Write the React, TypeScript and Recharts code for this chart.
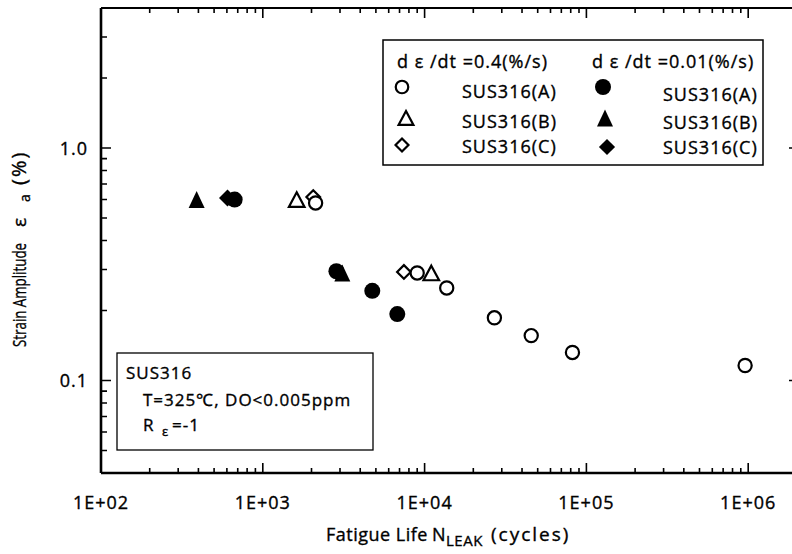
import React from "react";
import { ScatterChart, Scatter, XAxis, YAxis, ReferenceLine } from "recharts";

// ---------- data (N cycles, strain amplitude %) ----------
const openA_N = [2120, 9000, 13700, 27000, 45600, 82000, 957000];
const openA_E = [0.58, 0.29, 0.25, 0.186, 0.156, 0.132, 0.116];
const openB_N = [1620, 11000];
const openB_E = [0.6, 0.29];
const openC_N = [2050, 7450];
const openC_E = [0.615, 0.293];
const fillA_N = [670, 2850, 4750, 6780];
const fillA_E = [0.6, 0.295, 0.243, 0.193];
const fillB_N = [390, 3100];
const fillB_E = [0.6, 0.29];
const fillC_N = [605];
const fillC_E = [0.61];

const MAJOR_X = [100, 1000, 10000, 100000, 1000000];
const X_LABELS = ["1E+02", "1E+03", "1E+04", "1E+05", "1E+06"];
const MAJOR_Y = [0.1, 1];
const Y_LABELS = ["0.1", "1.0"];
const MINOR_MULT = [2, 3, 4, 5, 6, 7, 8, 9];
const X_DOMAIN = [100, 2120000];
const Y_DOMAIN = [0.04, 4];

const PLOT_W = 700;
const PLOT_H = 465;

const toPts = (ns: number[], es: number[]) => ns.map((n, i) => ({ n, e: es[i] }));

const xTicks: number[] = [];
MAJOR_X.forEach((d) => {
  xTicks.push(d);
  MINOR_MULT.forEach((m) => {
    const v = d * m;
    if (v < X_DOMAIN[1]) xTicks.push(v);
  });
});
const yTicks: number[] = [];
[0.01, 0.1, 1].forEach((d) => {
  MINOR_MULT.forEach((m) => {
    const v = +(d * m).toPrecision(6);
    if (v > Y_DOMAIN[0] && v < Y_DOMAIN[1]) yTicks.push(v);
  });
});
MAJOR_Y.forEach((v) => yTicks.push(v));
yTicks.sort((a, b) => a - b);

const isMajor = (v: number) => Math.abs(Math.log10(v) - Math.round(Math.log10(v))) < 1e-9;

const FONT = "'Open Sans', sans-serif";
const TXT = { fontFamily: FONT, fontSize: 18, letterSpacing: 1, fill: "#000", stroke: "#000", strokeWidth: 0.35 } as const;

// ---------- marker shapes ----------
type Kind = "circle" | "triangle" | "diamond";
const drawMarker = (kind: Kind, filled: boolean, cx: number, cy: number, scale = 1) => {
  const sw = 2.2;
  const fill = filled ? "#000" : "#fff";
  const stroke = "#000";
  if (kind === "circle") {
    return <circle cx={cx} cy={cy} r={(filled ? 8 : 6.6) * scale} fill={fill} stroke={filled ? "none" : stroke} strokeWidth={sw} />;
  }
  if (kind === "triangle") {
    const h = (filled ? 8.5 : 7.3) * scale;
    const w = (filled ? 8 : 7.8) * scale;
    const pts = `${cx},${cy - h} ${cx + w},${cy + h} ${cx - w},${cy + h}`;
    return <polygon points={pts} fill={fill} stroke={filled ? "none" : stroke} strokeWidth={sw} strokeLinejoin="miter" />;
  }
  const r = (filled ? 8.5 : 6.8) * scale;
  const pts = `${cx},${cy - r} ${cx + r},${cy} ${cx},${cy + r} ${cx - r},${cy}`;
  return <polygon points={pts} fill={fill} stroke={filled ? "none" : stroke} strokeWidth={sw} strokeLinejoin="miter" />;
};
const shapeOf = (kind: Kind, filled: boolean) => (props: any) => drawMarker(kind, filled, props.cx, props.cy);

// ---------- ticks (inward on all four sides) ----------
const BottomTick = (props: any) => {
  const { x, y, payload } = props;
  const v = payload.value;
  const maj = isMajor(v);
  const len = maj ? 10 : 5;
  const idx = MAJOR_X.findIndex((m) => Math.abs(m - v) / m < 1e-9);
  return (
    <g>
      <path d={`M${x},${y} V${y - len} M${x},${y - PLOT_H} V${y - PLOT_H + len}`} stroke="#000" strokeWidth={1.6} fill="none" />
      {idx >= 0 && (
        <text x={x} y={y + 36} textAnchor="middle" {...TXT}>
          {X_LABELS[idx]}
        </text>
      )}
    </g>
  );
};
const LeftTick = (props: any) => {
  const { x, y, payload } = props;
  const v = payload.value;
  const maj = isMajor(v);
  const len = maj ? 10 : 6;
  const rlen = maj ? 12 : 6;
  const idx = MAJOR_Y.findIndex((m) => Math.abs(m - v) / m < 1e-9);
  return (
    <g>
      <path d={`M${x},${y} H${x + len} M${x + PLOT_W},${y} H${x + PLOT_W - rlen}`} stroke="#000" strokeWidth={1.6} fill="none" />
      {idx >= 0 && (
        <text x={x - 13} y={y + 7} textAnchor="end" {...TXT}>
          {Y_LABELS[idx]}
        </text>
      )}
    </g>
  );
};

export default function App() {
  return (
    <div style={{ position: "absolute", left: 0, top: 0, width: 792, height: 554, overflow: "hidden", background: "#fff" }}>
      <ScatterChart width={821} height={554} margin={{ top: 8, right: 20, bottom: 0, left: 0 }}>
        <XAxis xAxisId="b" dataKey="n" type="number" scale="log" domain={X_DOMAIN} allowDataOverflow ticks={xTicks}
          interval={0} tickSize={0} tickMargin={0} tickLine={false} axisLine={false} height={81} tick={<BottomTick />} />
        <YAxis yAxisId="l" dataKey="e" type="number" scale="log" domain={Y_DOMAIN} allowDataOverflow ticks={yTicks}
          interval={0} tickSize={0} tickMargin={0} tickLine={false} axisLine={false} width={101} tick={<LeftTick />} />
        <ReferenceLine xAxisId="b" yAxisId="l" x={X_DOMAIN[0]} stroke="#000" strokeWidth={2.6} ifOverflow="visible" />
        <ReferenceLine xAxisId="b" yAxisId="l" y={Y_DOMAIN[0]} stroke="#000" strokeWidth={2.6} ifOverflow="visible" />
        <ReferenceLine xAxisId="b" yAxisId="l" y={Y_DOMAIN[1]} stroke="#000" strokeWidth={2.2} ifOverflow="visible" />
        <ReferenceLine xAxisId="b" yAxisId="l" x={X_DOMAIN[1]} stroke="#000" strokeWidth={2.2} ifOverflow="visible" />
        <Scatter xAxisId="b" yAxisId="l" data={toPts(fillC_N, fillC_E)} shape={shapeOf("diamond", true)} isAnimationActive={false} />
        <Scatter xAxisId="b" yAxisId="l" data={toPts(fillA_N, fillA_E)} shape={shapeOf("circle", true)} isAnimationActive={false} />
        <Scatter xAxisId="b" yAxisId="l" data={toPts(fillB_N, fillB_E)} shape={shapeOf("triangle", true)} isAnimationActive={false} />
        <Scatter xAxisId="b" yAxisId="l" data={toPts(openC_N, openC_E)} shape={shapeOf("diamond", false)} isAnimationActive={false} />
        <Scatter xAxisId="b" yAxisId="l" data={toPts(openA_N, openA_E)} shape={shapeOf("circle", false)} isAnimationActive={false} />
        <Scatter xAxisId="b" yAxisId="l" data={toPts(openB_N, openB_E)} shape={shapeOf("triangle", false)} isAnimationActive={false} />
      </ScatterChart>

      <svg width={792} height={554} style={{ position: "absolute", left: 0, top: 0, pointerEvents: "none" }}>
        {/* legend box */}
        <rect x={383} y={40} width={380} height={125} fill="#fff" stroke="#000" strokeWidth={1.5} />
        <text x={397} y={68} {...TXT}>d ε /dt =0.4(%/s)</text>
        <text x={592} y={68} {...TXT}>d ε /dt =0.01(%/s)</text>
        {drawMarker("circle", false, 402, 87, 0.95)}
        <text x={462} y={98} {...TXT}>SUS316(A)</text>
        {drawMarker("circle", true, 603, 87, 1)}
        <text x={663} y={101} {...TXT}>SUS316(A)</text>
        {drawMarker("triangle", false, 406, 118, 0.95)}
        <text x={462} y={128} {...TXT}>SUS316(B)</text>
        {drawMarker("triangle", true, 605, 118, 1)}
        <text x={663} y={129} {...TXT}>SUS316(B)</text>
        {drawMarker("diamond", false, 402, 145, 0.95)}
        <text x={462} y={153} {...TXT}>SUS316(C)</text>
        {drawMarker("diamond", true, 607, 147, 0.95)}
        <text x={663} y={154} {...TXT}>SUS316(C)</text>

        {/* condition box */}
        <rect x={117} y={353} width={256} height={97} fill="#fff" stroke="#000" strokeWidth={1.3} />
        <text x={126} y={379} {...TXT} fontSize={17}>SUS316</text>
        <text x={143} y={406} {...TXT} fontSize={17}>T=325℃, DO&lt;0.005ppm</text>
        <text y={431} {...TXT} fontSize={17}>
          <tspan x={143}>R</tspan>
          <tspan x={162} dy={5} fontSize={13}>ε</tspan>
          <tspan x={172} dy={-5}>=-1</tspan>
        </text>

        {/* axis titles */}
        <text y={541} {...TXT} letterSpacing={0.5}>
          <tspan x={326}>Fatigue Life</tspan>
          <tspan x={432}>N</tspan>
          <tspan x={446} dy={5} fontSize={15}>LEAK</tspan>
          <tspan x={491} dy={-5} fontSize={19} letterSpacing={2}>(cycles)</tspan>
        </text>
        <g transform="translate(26,0) rotate(-90)">
          <text y={0} {...TXT} fontSize={19} letterSpacing={0}>
            <tspan x={-347} textLength={104} lengthAdjust="spacingAndGlyphs">Strain Amplitude</tspan>
            <tspan x={-227}>ε</tspan>
            <tspan x={-202} dy={4} fontSize={14}>a</tspan>
            <tspan x={-185} dy={-4} fontSize={20} letterSpacing={2}>(%)</tspan>
          </text>
        </g>
      </svg>
    </div>
  );
}
